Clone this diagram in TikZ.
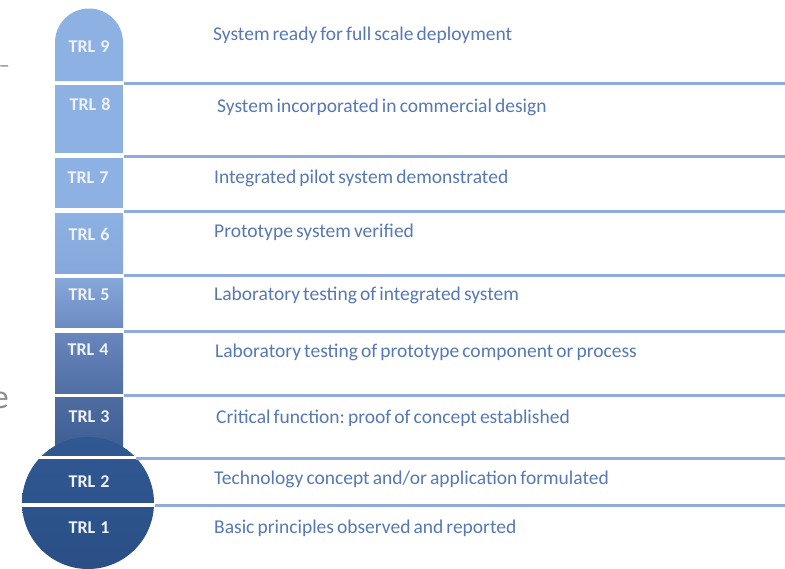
\documentclass[tikz,border=0pt]{standalone}
\usepackage{fontspec}
\setmainfont{Carlito}[WordSpace=0.7]
\frenchspacing
\definecolor{trltext}{RGB}{86,120,180}
\definecolor{sepline}{RGB}{142,171,220}
\definecolor{collight}{RGB}{141,177,226}
\definecolor{lbltext}{RGB}{238,242,250}
\definecolor{fragment}{RGB}{140,140,140}
\newcommand{\trl}[1]{TRL\hspace{5pt}#1}
\begin{document}
\begin{tikzpicture}[x=1pt,y=-1pt,
  sep/.style={draw=sepline,line width=3pt},
  gap/.style={draw=white,line width=3.5pt},
  lbl/.style={text=lbltext,font=\bfseries\fontsize{18}{18}\selectfont,inner sep=0pt,anchor=base},
  desc/.style={text=trltext,font=\fontsize{19.5}{19.5}\selectfont,inner sep=0pt,anchor=base west}]
\useasboundingbox (0,0) rectangle (785,568);

% column
\fill[collight] (55,81)--(55,42.5) .. controls (55,23.7) and (70.2,8.5) .. (89,8.5)
  .. controls (107.8,8.5) and (123,23.7) .. (123,42.5)--(123,81)--cycle;
\fill[collight] (55,85) rectangle (123,153);
\fill[collight] (55,158) rectangle (123,208);
\shade[top color=collight,bottom color={rgb,255:red,134;green,167;blue,218}] (55,213) rectangle (123,273);
\shade[top color={rgb,255:red,134;green,167;blue,218},bottom color={rgb,255:red,108;green,139;blue,194}] (55,278) rectangle (123,327);
\shade[top color={rgb,255:red,104;green,134;blue,188},bottom color={rgb,255:red,80;green,111;blue,164}] (55,333) rectangle (123,393);
\shade[top color={rgb,255:red,78;green,108;blue,160},bottom color={rgb,255:red,60;green,92;blue,146}] (55,397) rectangle (123,456);

% bulb
\shade[top color={rgb,255:red,48;green,88;blue,146},bottom color={rgb,255:red,42;green,79;blue,134}] (88,503) circle (66);
\draw[gap] (20,457.5)--(156,457.5);
\draw[gap] (18,505)--(158,505);

% separators
\draw[sep] (124,83)--(785,83);
\draw[sep] (124,156)--(785,156);
\draw[sep] (124,211)--(785,211);
\draw[sep] (124,275.5)--(785,275.5);
\draw[sep] (124,331)--(785,331);
\draw[sep] (124,395.5)--(785,395.5);
\draw[sep] (136,458)--(785,458);
\draw[sep] (155,505)--(785,505);

% levels
\node[lbl] (trl9) at (89,52) {\trl{9}};
\node[lbl] (trl8) at (90,110) {\trl{8}};
\node[lbl] (trl7) at (88,183) {\trl{7}};
\node[lbl] (trl6) at (89,240) {\trl{6}};
\node[lbl] (trl5) at (89,300) {\trl{5}};
\node[lbl] (trl4) at (88,355) {\trl{4}};
\node[lbl] (trl3) at (89,422) {\trl{3}};
\node[lbl] (trl2) at (89,487) {\trl{2}};
\node[lbl] (trl1) at (89,533) {\trl{1}};

\node[desc] (desc9) at (213,40) {System ready for full scale deployment};
\node[desc] (desc8) at (217,112) {System incorporated in commercial design};
\node[desc] (desc7) at (214,183) {Integrated pilot system demonstrated};
\node[desc] (desc6) at (214,237) {Prototype system verified};
\node[desc] (desc5) at (214,300) {Laboratory testing of integrated system};
\node[desc] (desc4) at (215,357) {Laboratory testing of prototype component or process};
\node[desc] (desc3) at (216,423) {Critical function: proof of concept established};
\node[desc] (desc2) at (214,484) {Technology concept and/or application formulated};
\node[desc] (desc1) at (214,533) {Basic principles observed and reported};

% cut-off text at the left edge
\node[text=fragment,font=\fontsize{22}{22}\selectfont,inner sep=0pt,anchor=base east] (dashfrag) at (10,72) {–};
\node[text=fragment,font=\fontsize{34}{34}\selectfont,inner sep=0pt,anchor=base east] (efrag) at (9,408) {e};
\end{tikzpicture}
\end{document}
